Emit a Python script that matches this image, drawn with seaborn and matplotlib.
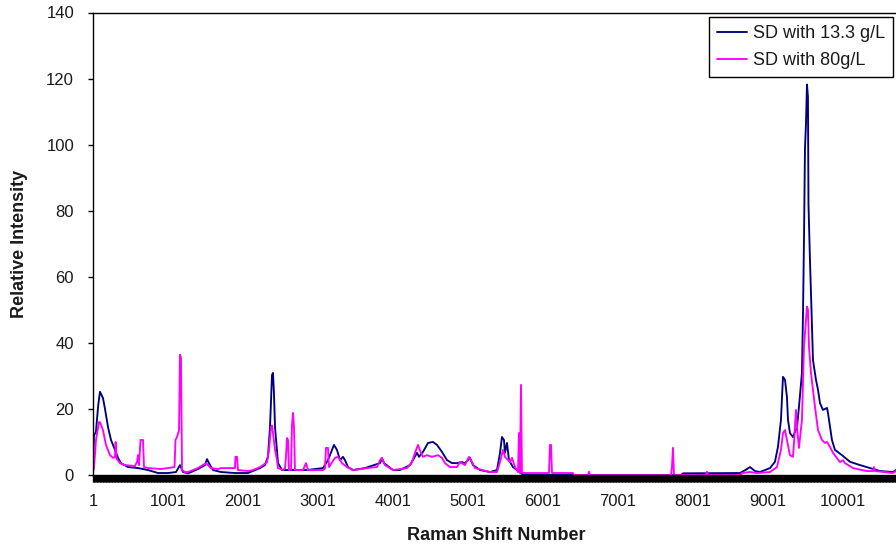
import matplotlib
matplotlib.use("Agg")
import matplotlib.pyplot as plt
import seaborn as sns
import pandas as pd

# Spectrum with 13.3 g/L (Raman shift number, relative intensity)
sd133_x = [1, 14, 40, 70, 94, 134, 161, 201, 241, 294, 334, 374, 468, 601, 734, 868,
           1001, 1108, 1161, 1201, 1268, 1401, 1494, 1521, 1561, 1601, 1708, 1894, 2068,
           2228, 2294, 2334, 2361, 2388, 2401, 2414, 2428, 2454, 2468, 2521, 2854, 3068,
           3134, 3188, 3214, 3254, 3294, 3334, 3361, 3401, 3468, 3628, 3828, 3854, 3881,
           4001, 4094, 4228, 4321, 4348, 4401, 4468, 4534, 4588, 4654, 4721, 4788, 4854,
           4921, 4961, 5028, 5068, 5161, 5294, 5388, 5428, 5454, 5481, 5494, 5521, 5548,
           5601, 5654, 5708, 5740, 7840, 7868, 8628, 8700, 8761, 8828, 8894, 9028, 9094,
           9134, 9174, 9201, 9228, 9254, 9268, 9294, 9334, 9388, 9414, 9454, 9468, 9481,
           9494, 9508, 9521, 9534, 9541, 9561, 9575, 9588, 9601, 9641, 9668, 9694, 9734,
           9788, 9801, 9854, 9894, 9988, 10094, 10228, 10361, 10494, 10668, 10708]
sd133_y = [2, 12, 13, 21, 25.2, 23.3, 20, 14.5, 10.6, 7.6, 5.2, 3.6, 2.4, 2.1, 1.5, 0.6,
           0.6, 0.9, 3.0, 0.9, 0.5, 1.8, 3.0, 4.8, 3.0, 1.5, 0.9, 0.6, 0.6,
           2.1, 3.0, 5.5, 14.5, 30.3, 30.9, 24.8, 14.5, 7.6, 3.6, 1.5, 1.5, 2.1,
           4.5, 7.6, 9.1, 7.6, 4.5, 5.5, 4.5, 2.4, 1.5, 2.1, 3.6, 5.0, 3.6,
           1.5, 1.5, 3.0, 6.7, 5.5, 7.0, 9.7, 10.0, 9.1, 7.0, 4.5, 3.6, 3.6,
           3.9, 3.6, 5.2, 3.0, 1.5, 0.9, 1.5, 6.7, 11.5, 10.6, 6.7, 9.7, 4.5,
           2.4, 1.5, 0.6, 0, 0, 0.5, 0.6, 1.5, 2.4, 1.2, 0.9, 2.1, 4.0,
           8.5, 16.7, 29.7, 28.8, 23.6, 16.7, 12.7, 11.5, 14.5, 20.6, 30.9, 49, 71,
           98.5, 106.7, 118.2, 114.5, 82, 65, 55, 44.8, 34.8, 28.8, 25.8, 21.8, 19.7,
           20.3, 18.8, 10.6, 7.6, 6.0, 4.0, 3.0, 2.1, 1.2, 0.9, 1.5]

# Spectrum with 80 g/L
sd80_x = [1, 14, 41, 81, 94, 134, 174, 228, 268, 294, 303, 314, 361, 428, 561, 588,
          601, 614, 635, 668, 681, 734, 908, 1088, 1101, 1121, 1148, 1161, 1174, 1188,
          1228, 1268, 1401, 1508, 1574, 1668, 1708, 1894, 1901, 1921, 1934, 2068, 2134,
          2228, 2268, 2321, 2348, 2374, 2388, 2401, 2428, 2454, 2468, 2534, 2561, 2574,
          2588, 2601, 2614, 2641, 2654, 2668, 2681, 2694, 2801, 2841, 2868, 3068, 3094,
          3108, 3134, 3148, 3228, 3268, 3321, 3388, 3468, 3654, 3788, 3828, 3854, 3894,
          4001, 4188, 4254, 4294, 4334, 4374, 4401, 4454, 4521, 4601, 4654, 4694, 4761,
          4854, 4894, 4961, 5014, 5054, 5094, 5294, 5388, 5428, 5468, 5494, 5561, 5588,
          5628, 5668, 5681, 5694, 5708, 5721, 6081, 6094, 6108, 6121, 6401, 6414, 6601,
          6614, 6628, 7708, 7721, 7734, 7748, 8174, 8188, 8201, 8640, 8654, 8761, 8854,
          9028, 9121, 9174, 9201, 9228, 9254, 9294, 9334, 9348, 9374, 9388, 9414, 9454,
          9481, 9508, 9521, 9534, 9548, 9574, 9601, 9628, 9668, 9721, 9761, 9788, 9828,
          9868, 9961, 10001, 10028, 10134, 10321, 10401, 10414, 10428, 10668, 10708]
sd80_y = [1, 2.1, 10.6, 16, 16, 13.6, 9.1, 6.0, 5.2, 5.5, 10.0, 5.0, 3.6, 3.0, 2.7, 4,
          6.0, 3.0, 10.6, 10.6, 2.4, 2.1, 1.8, 2.4, 10.6, 11.5, 13.6, 36.4, 35.5, 1.5,
          0.9, 0.9, 2.1, 3.6, 2.1, 1.8, 2.1, 2.1, 5.5, 5.5, 1.5, 1.2, 1.5,
          2.4, 3.0, 3.9, 7.6, 14.5, 15.0, 12.7, 7.6, 4.5, 2.1, 1.5, 2.0, 5.5,
          11.2, 10.6, 1.5, 1.5, 15, 18.8, 14.5, 1.5, 1.5, 3.6, 1.5, 1.5, 2,
          8.2, 8.2, 2.4, 5.2, 5.5, 3.6, 2.4, 1.5, 2.1, 2.4, 4.5, 5.2, 3.0,
          1.5, 2.1, 3.9, 6.7, 9.1, 6.7, 5.5, 6.0, 5.5, 6.0, 5.2, 3.6, 2.4,
          2.4, 3.9, 3.0, 5.5, 3.9, 2.1, 0.9, 0.9, 3.9, 7.6, 5.5, 3.9, 5.2,
          2.4, 0.9, 12.7, 0.6, 27.3, 0.6, 0.6, 9.1, 9.1, 0.6, 0.6, 0, 0,
          1.0, 0, 0, 2.4, 8.2, 0, 0, 1.0, 0, 0, 0.6, 0.9, 0.6,
          0.9, 2.4, 7.6, 12.7, 13.6, 10.6, 6.0, 5.5, 9.7, 19.7, 14.5, 8.2, 16.7,
          38.8, 47, 51, 50, 38.8, 31, 25.8, 20.6, 13.6, 10.6, 9.7, 10.0, 8.5,
          6.7, 3.9, 4.5, 3.6, 2.1, 1.2, 1.2, 2.4, 1.2, 0.6, 1.2]

series_labels = ["SD with 13.3 g/L", "SD with 80g/L"]
series_colors = ["#000080", "#FF00FF"]
y_ticks = [0, 20, 40, 60, 80, 100, 120, 140]
x_ticks = [1, 1001, 2001, 3001, 4001, 5001, 6001, 7001, 8001, 9001, 10001]

sns.set_style("white")
plt.rcParams["font.family"] = ["Liberation Sans", "DejaVu Sans"]

fig = plt.figure(figsize=(8.96, 5.49), dpi=100)
ax = fig.add_axes([93 / 896, 1 - 475 / 549, 1 - 93 / 896, (475 - 12.5) / 549])

frames = [
    pd.DataFrame({"shift": sd133_x, "intensity": sd133_y}),
    pd.DataFrame({"shift": sd80_x, "intensity": sd80_y}),
]
for df, lab, col in zip(frames, series_labels, series_colors):
    sns.lineplot(data=df, x="shift", y="intensity", ax=ax, color=col, label=lab,
                 linewidth=1.35, estimator=None, sort=False)

ax.set_xlim(1, 10708)
ax.set_ylim(0, 140)
ax.set_xticks(x_ticks)
ax.set_xticklabels([str(t) for t in x_ticks])
ax.set_yticks(y_ticks)
ax.set_yticklabels([str(t) for t in y_ticks])

# dense category tick marks form the solid band under the axis
ax.set_xticks(range(1, 10708, 10), minor=True)
ax.tick_params(axis="x", which="minor", bottom=True, length=4.7, width=1.0, color="black")
ax.tick_params(axis="x", which="major", bottom=True, length=4.7, width=1.0, color="black",
               pad=9, labelsize=12, labelcolor="#1a1a1a")
ax.tick_params(axis="y", which="major", left=True, length=3.6, width=1.0, color="black",
               pad=10, labelsize=12, labelcolor="#1a1a1a")

for side in ["left", "top", "bottom"]:
    ax.spines[side].set_visible(True)
    ax.spines[side].set_color("black")
    ax.spines[side].set_linewidth(1.0)
ax.spines["right"].set_visible(False)

ax.set_xlabel("Raman Shift Number", fontsize=13, fontweight="bold", color="#1a1a1a")
ax.set_ylabel("Relative Intensity", fontsize=13, fontweight="bold", color="#1a1a1a")
ax.xaxis.set_label_coords(0.5028, (475 - 535) / 462.5)
ax.xaxis.label.set_va("center")
ax.yaxis.set_label_coords((20 - 93) / 803, 0.5)
ax.yaxis.label.set_va("center")

leg = ax.legend(loc="upper right", bbox_to_anchor=(893 / 896, 1 - 17 / 549),
                bbox_transform=fig.transFigure, borderaxespad=0, fontsize=13,
                frameon=True, fancybox=False, framealpha=1, edgecolor="black",
                handlelength=1.7, handletextpad=0.3, labelspacing=0.55,
                borderpad=0.45)
leg.get_frame().set_linewidth(1.0)
for t in leg.get_texts():
    t.set_color("#1a1a1a")

fig.savefig("out.png", dpi=100)
